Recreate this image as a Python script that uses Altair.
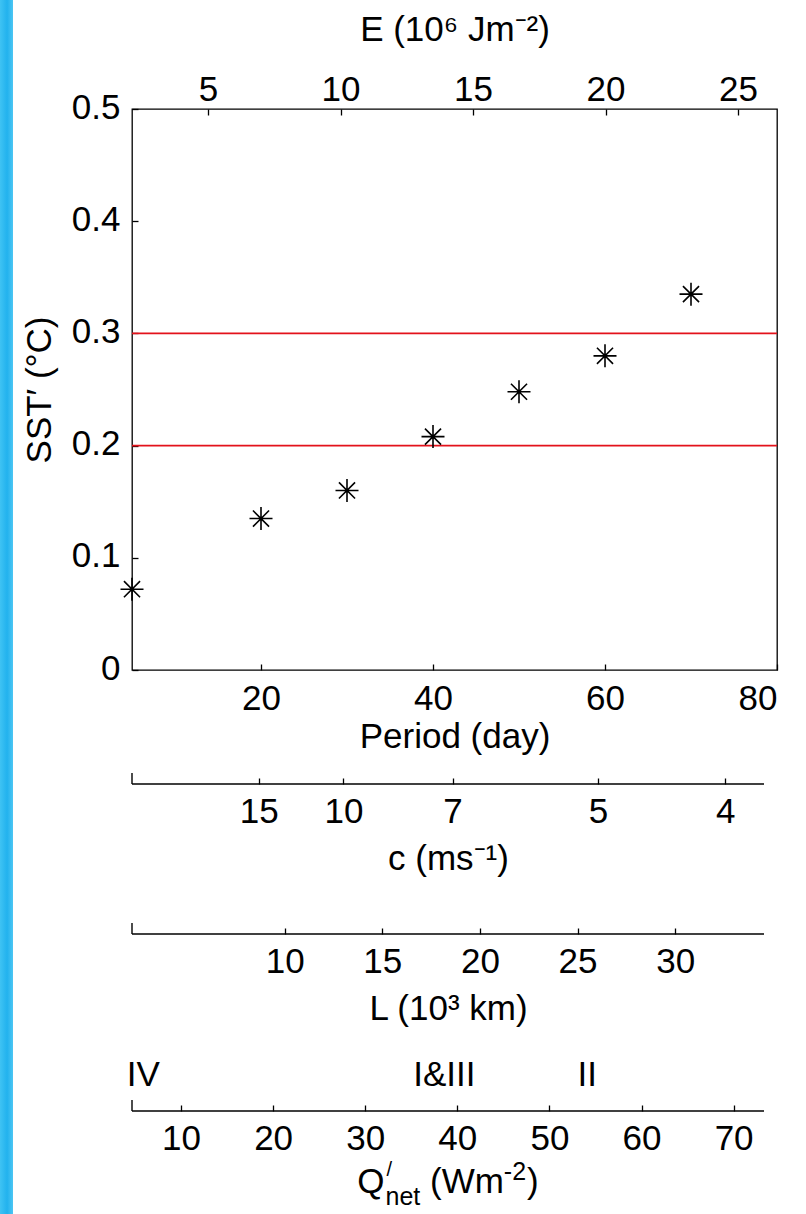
import altair as alt
import pandas as pd

# ---------------- data ----------------
period = [5, 20, 30, 40, 50, 60, 70]
sst = [0.072, 0.135, 0.160, 0.208, 0.248, 0.280, 0.335]
thresholds = [0.2, 0.3]

period_ticks = [20, 40, 60, 80]
sst_ticks = [0, 0.1, 0.2, 0.3, 0.4, 0.5]
e_ticks = [5, 10, 15, 20, 25]
c_ticks = [15, 10, 7, 5, 4]
l_ticks = [10, 15, 20, 25, 30]
q_ticks = [10, 20, 30, 40, 50, 60, 70]
region_labels = ["IV", "I&III", "II"]
region_q = [5.9, 38.6, 54.1]

period_domain = [5, 80]
sst_domain = [0, 0.5]
e_domain = [2.13, 26.47]
c_domain = [59.2, 3.77]
l_domain = [2.18, 34.55]
q_domain = [4.68, 73.3]

# ---------------- layout ----------------
W, H = 645, 561
PAD = {"left": 132, "top": 109, "right": 29, "bottom": 544}
AUX_W = 632
C_LINE, L_LINE, Q_LINE = 675, 825, 1002
FONT = "Liberation Sans"
FS = 35
SMALL = 25
TICK = 6

one = pd.DataFrame({"k": [0]})


def inward_axis(**kw):
    base = dict(tickSize=TICK, domain=False, grid=False, labelFontSize=FS,
                titleFontSize=FS)
    base.update(kw)
    return alt.Axis(**base)


y_enc = alt.Y("sst:Q", scale=alt.Scale(domain=sst_domain, nice=False, zero=False),
              axis=inward_axis(orient="left", values=sst_ticks, offset=-TICK,
                               labelPadding=12, format="~g", labelOffset=-2,
                               title="SST′ (°C)", titlePadding=14))

main_df = pd.DataFrame({"period": period, "sst": sst})
star = "M-1,0L1,0M0,-1L0,1M-0.7,-0.7L0.7,0.7M-0.7,0.7L0.7,-0.7"
points = alt.Chart(main_df).mark_point(
    shape=star, size=529, filled=False, color="black", strokeWidth=1.6, opacity=1
).encode(
    x=alt.X("period:Q", scale=alt.Scale(domain=period_domain, nice=False, zero=False),
            axis=inward_axis(orient="bottom", values=period_ticks, offset=-TICK,
                             labelPadding=11, title="Period (day)", titlePadding=3)),
    y=y_enc,
)

thr_df = pd.DataFrame({"sst": thresholds})
rules = alt.Chart(thr_df).mark_rule(color="#e3121b", strokeWidth=1.6).encode(y=y_enc)

e_df = pd.DataFrame({"e": e_ticks})
e_layer = alt.Chart(e_df).mark_point(opacity=0).encode(
    x=alt.X("e:Q", scale=alt.Scale(domain=e_domain, nice=False, zero=False),
            axis=inward_axis(orient="top", values=e_ticks, offset=-TICK,
                             labelPadding=2, title="E (10⁶ Jm⁻²)", titlePadding=25)),
    y=alt.value(0),
)


def aux_axis(df, field, scale, ticks, line_y, title, title_pad):
    enc_axis = dict(orient="bottom", values=ticks, offset=line_y - TICK - H,
                    labelPadding=10)
    if title:
        enc_axis.update(title=title, titlePadding=title_pad)
    else:
        enc_axis.update(title=None)
    ax = alt.Chart(df).mark_point(opacity=0).encode(
        x=alt.X(f"{field}:Q", scale=scale, axis=inward_axis(**enc_axis)),
        y=alt.value(line_y),
    )
    line = alt.Chart(one).mark_rule(color="black", strokeWidth=1.4).encode(
        x=alt.value(0), x2=alt.value(AUX_W), y=alt.value(line_y))
    end = alt.Chart(one).mark_rule(color="black", strokeWidth=1.4).encode(
        x=alt.value(0), y=alt.value(line_y - 11), y2=alt.value(line_y))
    return [ax, line, end]


c_scale = alt.Scale(type="pow", exponent=-1, domain=c_domain, range=[0, AUX_W],
                    nice=False, zero=False)
l_scale = alt.Scale(domain=l_domain, range=[0, AUX_W], nice=False, zero=False)
q_scale = alt.Scale(domain=q_domain, range=[0, AUX_W], nice=False, zero=False)

c_layers = aux_axis(pd.DataFrame({"c": c_ticks}), "c", c_scale, c_ticks, C_LINE,
                    "c (ms⁻¹)", 12)
l_layers = aux_axis(pd.DataFrame({"l": l_ticks}), "l", l_scale, l_ticks, L_LINE,
                    "L (10³ km)", 12)
q_layers = aux_axis(pd.DataFrame({"q": q_ticks}), "q", q_scale, q_ticks, Q_LINE,
                    None, 0)

# Q'net title composed of normal / superscript / subscript pieces (Arial metrics)
ARIAL = {" ": 278, "(": 333, ")": 333, "Q": 778, "n": 556, "e": 556, "t": 278,
         "W": 944, "m": 833, "-": 333, "2": 556, "/": 278}


def text_w(s, size):
    return sum(ARIAL[ch] for ch in s) * size / 1000.0


# (text, font size, baseline shift, gap before)
q_pieces = [("Q", FS, 0, 0), ("net", SMALL, 12, 1), ("(Wm", FS, 0, text_w(" ", FS)),
            ("-2", SMALL, -13, 0), (")", FS, 0, 1)]
q_total = sum(text_w(t, s) + g for t, s, _, g in q_pieces)
Q_TITLE_BASE = Q_LINE + 82
q_left = AUX_W / 2 - q_total / 2
qx = q_left
title_layers = []
for txt, size, dy, gap in q_pieces:
    qx += gap
    title_layers.append(
        alt.Chart(one).mark_text(font=FONT, fontSize=size, align="left",
                                 baseline="alphabetic", color="black", text=txt)
        .encode(x=alt.value(qx), y=alt.value(Q_TITLE_BASE + dy))
    )
    qx += text_w(txt, size)
# the prime over the subscript
title_layers.append(
    alt.Chart(one).mark_text(font=FONT, fontSize=20, align="left",
                             baseline="alphabetic", color="black", text="/")
    .encode(x=alt.value(q_left + text_w("Q", FS) + 2),
            y=alt.value(Q_TITLE_BASE - 17))
)

reg_df = pd.DataFrame({"q": region_q, "label": region_labels})
reg_text = alt.Chart(reg_df).mark_text(
    font=FONT, fontSize=FS, baseline="middle", align="center", color="black"
).encode(
    x=alt.X("q:Q", scale=q_scale, axis=None),
    y=alt.value(Q_LINE - 36),
    text="label:N",
)

strip = alt.Chart(one).mark_rect(
    color=alt.LinearGradient(
        gradient="linear",
        stops=[alt.GradientStop(color="#3fc3f3", offset=0),
               alt.GradientStop(color="#22b2ee", offset=0.55),
               alt.GradientStop(color="#4cc6f3", offset=1)],
        x1=0, x2=1, y1=0, y2=0,
    )
).encode(x=alt.value(-132), x2=alt.value(-119), y=alt.value(-109), y2=alt.value(1105))

chart = alt.layer(
    strip, rules, points, e_layer, *c_layers, *l_layers, *q_layers, reg_text,
    *title_layers
).resolve_scale(x="independent", y="shared").properties(
    width=W, height=H, padding=PAD, background="white",
    autosize=alt.AutoSizeParams(type="none"),
).configure_view(
    stroke="black", strokeWidth=1.3
).configure_axis(
    labelFont=FONT, titleFont=FONT, titleFontWeight="normal",
    labelColor="black", titleColor="black", tickColor="black", tickWidth=1.3,
)

chart.save("out.html", embed_options={"renderer": "svg", "actions": False})
